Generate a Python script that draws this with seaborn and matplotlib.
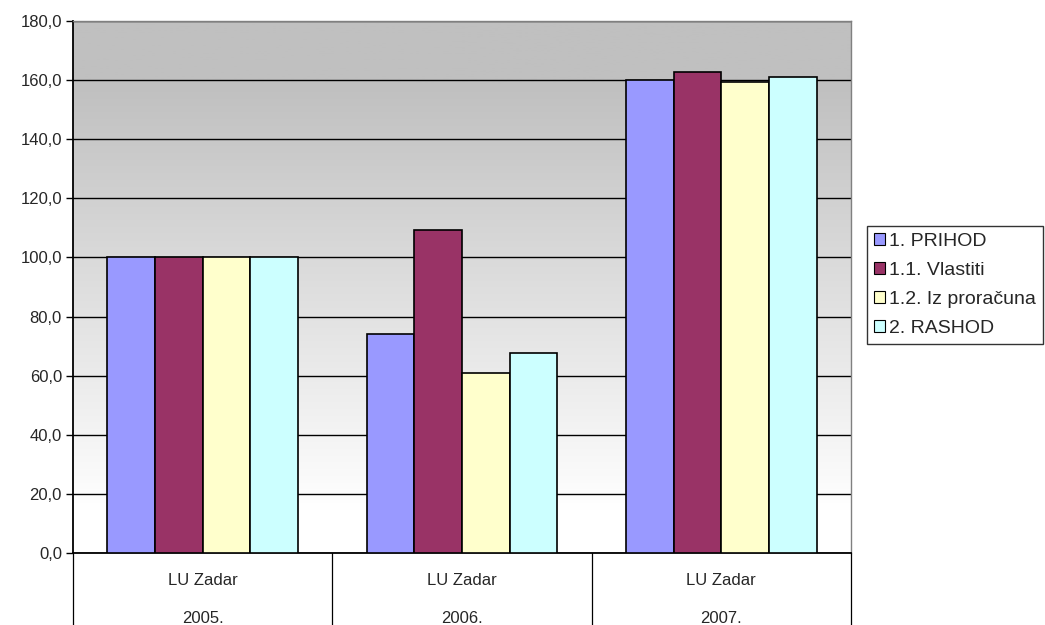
import numpy as np
import pandas as pd
import seaborn as sns
import matplotlib.pyplot as plt
from matplotlib.colors import LinearSegmentedColormap
from matplotlib.patches import Patch

groups = ["2005.", "2006.", "2007."]
series = ["1. PRIHOD", "1.1. Vlastiti", "1.2. Iz proračuna", "2. RASHOD"]
prihod = [100.0, 74.1, 160.2]
vlastiti = [100.0, 109.3, 162.6]
proracun = [100.0, 61.0, 159.5]
rashod = [100.0, 67.6, 160.9]
colors = ["#9999ff", "#993366", "#ffffcc", "#ccffff"]

rows = []
for name, vals in zip(series, [prihod, vlastiti, proracun, rashod]):
    for g, v in zip(groups, vals):
        rows.append({"godina": g, "serija": name, "vrijednost": v})
df = pd.DataFrame(rows)

sns.set_style("white")
plt.rcParams['font.family'] = ['Liberation Sans', 'DejaVu Sans']

fig = plt.figure(figsize=(10.45, 6.25), dpi=100)
ax = fig.add_axes([73 / 1045, 72 / 625, 778 / 1045, 532 / 625])

sns.barplot(data=df, x="godina", y="vrijednost", hue="serija", palette=colors,
            saturation=1, width=0.735, gap=0, edgecolor="black", linewidth=1.2,
            ax=ax, legend=False, zorder=3)

ax.set_xlim(-0.5, 2.5)
ax.set_ylim(0, 180)

# gradient background: white at bottom, grey at top
cmap = LinearSegmentedColormap.from_list("bg", [(0, "#ffffff"), (0.08, "#ffffff"), (0.88, "#c0c0c0"), (1, "#c0c0c0")])
grad = np.linspace(1, 0, 256).reshape(-1, 1)
ax.imshow(grad, extent=[-0.5, 2.5, 0, 180], aspect="auto", cmap=cmap, zorder=0, vmin=0, vmax=1)

ax.set_yticks(np.arange(0, 181, 20))
ax.set_yticklabels([f"{v:.1f}".replace(".", ",") for v in np.arange(0, 181, 20)], fontsize=12)
ax.yaxis.grid(True, color="black", linewidth=1)
for gl in ax.get_ygridlines():
    gl.set_zorder(1)
ax.tick_params(axis="y", left=True, length=5, width=1, color="black", pad=3)
ax.set_xticks([])
ax.set_xlabel("")
ax.set_ylabel("")

for s in ["left", "bottom"]:
    ax.spines[s].set_color("black")
    ax.spines[s].set_linewidth(1.3)
for s in ["top", "right"]:
    ax.spines[s].set_color("#808080")
    ax.spines[s].set_linewidth(1)

# category separators and labels below the axis
for x in [-0.5, 0.5, 1.5, 2.5]:
    ax.plot([x, x], [0, -24.5], color="black", linewidth=0.9, clip_on=False, zorder=5)
for i, g in enumerate(groups):
    ax.text(i, -9.2, "LU Zadar", ha="center", va="center", fontsize=12, clip_on=False)
    ax.text(i, -22.0, g, ha="center", va="center", fontsize=12, clip_on=False)

handles = [Patch(facecolor=c, edgecolor="black", linewidth=0.8) for c in colors]
leg = fig.legend(handles, series, loc="upper left", bbox_to_anchor=(867 / 1045, 1 - 226 / 625),
                 frameon=True, fancybox=False, edgecolor="black", fontsize=14,
                 handlelength=0.55, handleheight=0.55, handletextpad=0.25,
                 labelspacing=0.62, borderpad=0.35, borderaxespad=0)
leg.get_frame().set_linewidth(1)

fig.savefig("out.png", dpi=100)
